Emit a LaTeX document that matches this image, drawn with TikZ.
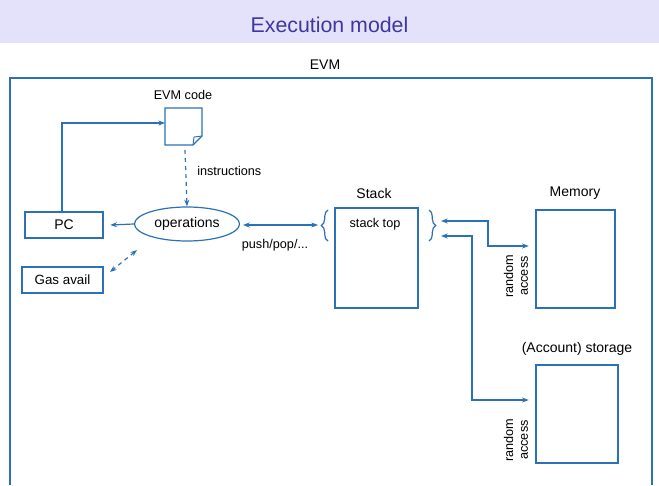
\documentclass[tikz,border=0pt]{standalone}
\usepackage{fontspec}
\setmainfont{Liberation Sans}
\usetikzlibrary{shapes.geometric,arrows.meta,decorations.pathreplacing}
\definecolor{ln}{HTML}{2A72B5}
\definecolor{band}{HTML}{E4E1FA}
\definecolor{ttl}{HTML}{3D379E}
\begin{document}
\begin{tikzpicture}[x=0.75pt,y=-0.75pt,
  box/.style={draw=ln,line width=0.9pt,fill=white},
  lbl/.style={font=\fontsize{9.5}{11}\selectfont,inner sep=0pt},
  conn/.style={draw=ln,line width=0.9pt,-{Stealth[length=5pt]}},
  dconn/.style={draw=ln,line width=0.9pt,{Stealth[length=5pt]}-{Stealth[length=5pt]}}]
\useasboundingbox (0,0) rectangle (659,485);
\fill[band] (0,0) rectangle (659,43);
\node[text=ttl,font=\fontsize{16}{18}\selectfont] (title) at (329.5,25) {Execution model};
\node[lbl,font=\fontsize{10.5}{12}\selectfont] (evm) at (325,65) {EVM};
\draw[ln,line width=0.9pt] (10,485) -- (10,78) -- (652,78) -- (652,485);
% doc
\node[lbl] (codelbl) at (183,95) {EVM code};
\draw[box] (165,108) -- (202,108) -- (202,136) -- (193,145) -- (165,145) -- cycle;
\draw[ln,line width=0.7pt] (202,136) -- (194,137) -- (193,145);
\coordinate (docL) at (165,123);
\coordinate (docB) at (185,150);
\node[draw=ln,line width=0.9pt,ellipse,minimum width=98pt*0.75,minimum height=34pt*0.75,font=\fontsize{10.5}{12}\selectfont] (ops) at (187,224) {operations};
\draw[conn,dashed] (docB) -- (ops.north);
\node[lbl,anchor=west] (instr) at (197,171) {instructions};
\node[box,minimum width=78pt*0.75,minimum height=26pt*0.75,font=\fontsize{10.5}{12}\selectfont] (pc) at (64,225) {PC};
\node[box,minimum width=81pt*0.75,minimum height=26pt*0.75,font=\fontsize{10}{12}\selectfont] (gas) at (62.5,280) {Gas avail};
\draw[conn] (ops.west) -- ([xshift=5pt]pc.east);
\draw[dconn,dashed] (137,250) -- (110,272);
\draw[conn] (pc.north -| 62,0) -- (62,123) -- (docL);
% stack
\node[box,minimum width=83pt*0.75,minimum height=100pt*0.75] (stack) at (376.5,258) {};
\node[lbl,font=\fontsize{10.5}{12}\selectfont] (stacklbl) at (374,193) {Stack};
\node[lbl] (top) at (375,224) {stack top};
\draw[ln,line width=0.9pt,decorate,decoration={brace,amplitude=5pt}] (328,241) -- (328,210);
\draw[ln,line width=0.9pt,decorate,decoration={brace,amplitude=5pt}] (429,210) -- (429,241);
\coordinate (lb) at (318,225);
\coordinate (rb1) at (441,221);
\coordinate (rb2) at (441,236);
\draw[dconn] (243,225) -- (lb);
\node[lbl] (push) at (275,245) {push/pop/...};
% memory
\node[box,minimum width=79pt*0.75,minimum height=98pt*0.75] (mem) at (575.5,259) {};
\node[lbl,font=\fontsize{10.5}{12}\selectfont] (memlbl) at (575,193) {Memory};
\node[box,minimum width=82pt*0.75,minimum height=98pt*0.75] (sto) at (577,414) {};
\node[lbl,font=\fontsize{10.5}{12}\selectfont] (stolbl) at (577,349) {(Account) storage};
\draw[dconn] (rb1) -- (488,221) -- (488,246) -- ([xshift=-5pt]mem.west |- 0,246);
\draw[dconn] (rb2) -- (472,236) -- (472,400) -- ([xshift=-5pt]sto.west |- 0,400);
\node[lbl,rotate=90,align=center] (ra1) at (516,276) {random\\access};
\node[lbl,rotate=90,align=center] (ra2) at (516,440) {random\\access};
\end{tikzpicture}
\end{document}
